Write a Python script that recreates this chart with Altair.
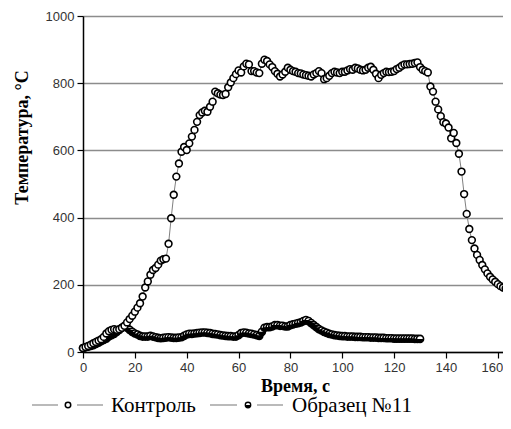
import altair as alt
import pandas as pd

# ---- data ----
control_time = list(range(0, 164))
control_temp = [
    12, 15, 18, 22, 26, 30, 34, 38, 45, 55,
    62, 66, 68, 66, 68, 72, 78, 88, 98, 108,
    120, 132, 145, 165, 192, 210, 230, 244, 250, 260,
    272, 276, 278, 322, 398, 468, 522, 561, 596, 610,
    601, 621, 641, 661, 685, 705, 713, 718, 715, 730,
    745, 775, 770, 766, 765, 768, 788, 802, 815, 827,
    838, 832, 850, 858, 856, 836, 836, 832, 830, 858,
    870, 866, 856, 848, 836, 828, 820, 826, 834, 846,
    840, 836, 834, 830, 829, 826, 824, 822, 820, 826,
    830, 836, 830, 812, 815, 822, 830, 834, 832, 830,
    834, 834, 838, 842, 840, 846, 844, 840, 838, 840,
    846, 849, 840, 828, 815, 825, 830, 834, 833, 834,
    836, 842, 846, 852, 856, 856, 857, 858, 860, 862,
    848, 840, 836, 832, 790, 775, 745, 722, 702, 684,
    680, 668, 636, 652, 622, 590, 537, 470, 411, 366,
    333, 308, 289, 274, 259, 246, 234, 224, 216, 209,
    202, 196, 192, 189,
]

sample_time = list(range(0, 131))
sample_temp = [
    12, 14, 16, 18, 20, 24, 28, 32, 36, 40,
    46, 50, 54, 60, 66, 72, 76, 72, 66, 60,
    55, 52, 48, 46, 46, 46, 48, 46, 44, 42,
    41, 42, 43, 44, 43, 42, 42, 43, 44, 48,
    52, 54, 54, 55, 56, 57, 58, 58, 57, 56,
    54, 53, 52, 50, 49, 48, 47, 47, 46, 46,
    50, 56, 58, 57, 55, 54, 52, 50, 48, 60,
    72, 74, 74, 76, 80, 80, 78, 78, 76, 76,
    80, 82, 84, 86, 88, 92, 95, 92, 86, 80,
    74, 68, 64, 60, 57, 54, 52, 50, 49, 48,
    47, 47, 46, 46, 46, 45, 45, 45, 44, 44,
    44, 43, 43, 43, 42, 42, 42, 41, 41, 41,
    40, 40, 40, 40, 40, 40, 40, 40, 39, 39,
    39,
]

x_ticks = [0, 20, 40, 60, 80, 100, 120, 140, 160]
y_ticks = [0, 200, 400, 600, 800, 1000]
x_title = "Время, с"
y_title = "Температура, °С"
legend_labels = ["Контроль", "Образец №11"]

control = pd.DataFrame({"t": control_time, "T": control_temp})
sample = pd.DataFrame({"t": sample_time, "T": sample_temp})

SERIF = "Liberation Serif, Times New Roman, serif"
W = 420

X = alt.X(
    "t:Q",
    scale=alt.Scale(domain=[0, 162], nice=False, zero=False),
    axis=alt.Axis(
        values=x_ticks, grid=False, title=x_title, format="d",
        titleFont=SERIF, titleFontSize=18, titleFontWeight="bold",
        titleColor="black", titleBaseline="middle", titleY=34, titleX=212,
        labelFont="Liberation Sans", labelFontSize=13, labelColor="#333333",
        labelPadding=3, tickSize=6, tickColor="black", tickWidth=1.2,
        domainColor="black", domainWidth=1.5, labelFlush=False,
        labelOffset={"condition": {"test": "datum.value === 160", "value": -6}, "value": 0},
    ),
)
Y = alt.Y(
    "T:Q",
    scale=alt.Scale(domain=[0, 1000], nice=False),
    axis=alt.Axis(
        values=y_ticks, grid=True, gridColor="#8c8c8c", gridWidth=1.3,
        format="d",
        title=y_title, titleFont=SERIF, titleFontSize=18,
        titleFontWeight="bold", titleColor="black", titleAngle=-90,
        titleBaseline="middle", titleX=-61, titleY=121,
        labelFont="Liberation Sans", labelFontSize=13, labelColor="#333333",
        labelPadding=3, tickSize=6, tickColor="black", tickWidth=1.2,
        domainColor="black", domainWidth=1.5,
    ),
)

half_path = "M-1,0A1,1 0 0 0 1,0Z"

c_line = alt.Chart(control).mark_line(color="#808080", strokeWidth=1).encode(x=X, y=Y)
c_pts = alt.Chart(control).mark_point(
    shape="circle", filled=True, fill="white", stroke="black",
    strokeWidth=1.6, size=46, opacity=1,
).encode(x=X, y=Y)
s_line = alt.Chart(sample).mark_line(color="#808080", strokeWidth=1).encode(x=X, y=Y)
s_pts = alt.Chart(sample).mark_point(
    shape="circle", filled=True, fill="white", stroke="black",
    strokeWidth=1.6, size=50, opacity=1,
).encode(x=X, y=Y)
s_half = alt.Chart(sample).mark_point(
    shape=half_path, filled=True, fill="black", size=50, opacity=1, strokeWidth=0,
).encode(x=X, y=Y)

# ---- hand-drawn legend under the axis ----
one = alt.Data(values=[{"k": 1}])
LY = 389
leg = []
for x1, x2 in [(-51, -25), (-6, 20), (127, 154), (174, 200)]:
    leg.append(alt.Chart(one).mark_rule(color="#8c8c8c", strokeWidth=1.2).encode(
        x=alt.value(x1), x2=alt.value(x2), y=alt.value(LY)))
leg.append(alt.Chart(one).mark_point(
    shape="circle", filled=True, fill="white", stroke="black", strokeWidth=1.5,
    size=30, opacity=1).encode(x=alt.value(-15), y=alt.value(LY)))
leg.append(alt.Chart(one).mark_point(
    shape="circle", filled=True, fill="white", stroke="black", strokeWidth=1.3,
    size=30, opacity=1).encode(x=alt.value(165), y=alt.value(LY)))
leg.append(alt.Chart(one).mark_point(
    shape=half_path, filled=True, fill="black", size=30, opacity=1,
    strokeWidth=0).encode(x=alt.value(165), y=alt.value(LY)))
leg.append(alt.Chart(one).mark_text(
    text=legend_labels[0], font=SERIF, fontSize=21, align="left",
    baseline="middle", color="black").encode(x=alt.value(28), y=alt.value(LY + 1)))
leg.append(alt.Chart(one).mark_text(
    text=legend_labels[1], font=SERIF, fontSize=21, align="left",
    baseline="middle", color="black").encode(x=alt.value(209), y=alt.value(LY + 1)))

chart = alt.layer(c_line, s_line, s_pts, s_half, c_pts, *leg).properties(
    width=W, height=336,
    autosize=alt.AutoSizeParams(type="none"),
    padding={"left": 75, "top": 8, "right": 0, "bottom": 69},
).configure_view(stroke=None).configure(background="white")

chart.save("out.html", embed_options={"renderer": "svg", "actions": False})
